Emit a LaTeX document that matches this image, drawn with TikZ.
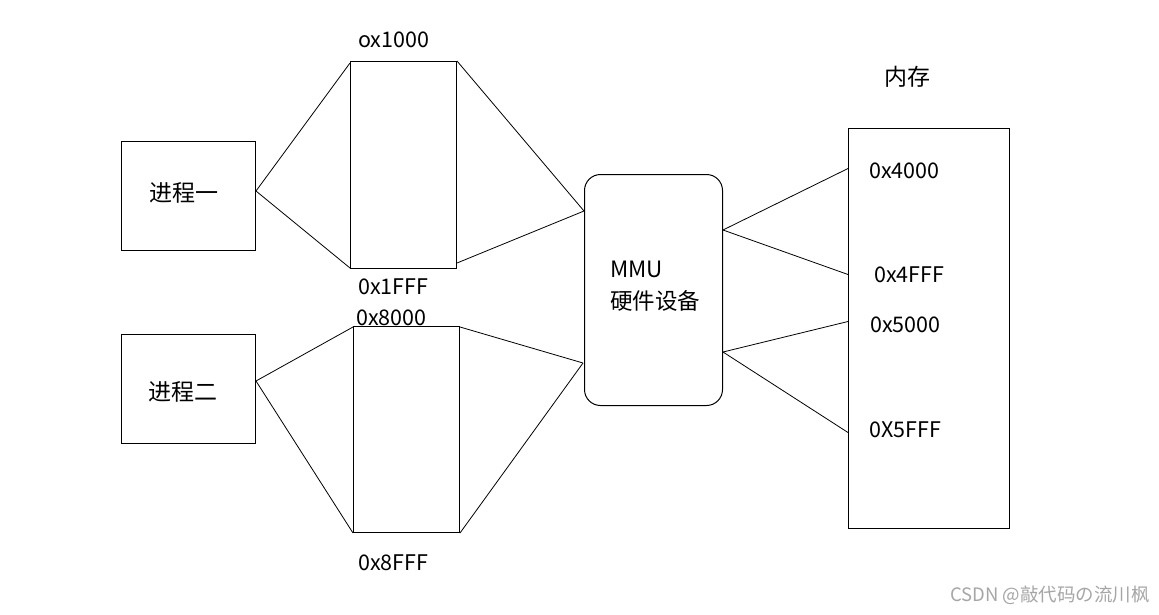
\documentclass[tikz,border=0pt]{standalone}
\usepackage{fontspec}
\setmainfont{Noto Sans CJK SC}
\usetikzlibrary{calc}
\begin{document}
\begin{tikzpicture}[x=1pt,y=-1pt,
  box/.style={draw,line width=1pt,rectangle,inner sep=0pt,anchor=north west},
  lbl/.style={anchor=west,inner sep=0pt,font=\fontsize{21.5}{24}\selectfont},
  cjk/.style={inner sep=0pt,font=\fontsize{23}{26}\selectfont},
  link/.style={line width=0.8pt}]
\fill[white] (0,0) rectangle (1159,614);
\useasboundingbox (0,0) rectangle (1159,614);
% process boxes
\node[box,minimum width=134pt,minimum height=109pt] (p1) at (121,141) {};
\node[cjk] (t1) at (184,193) {进程一};
\node[box,minimum width=134pt,minimum height=109pt] (p2) at (121,334) {};
\node[cjk] (t2) at (183,392) {进程二};
% virtual pages
\node[box,minimum width=106pt,minimum height=207pt] (v1) at (350,61) {};
\node[box,minimum width=106pt,minimum height=206pt] (v2) at (353,326) {};
% MMU
\node[box,minimum width=138pt,minimum height=231pt,rounded corners=16pt] (mmu) at (584,174) {};
\node[anchor=west,inner sep=0pt,align=left,font=\fontsize{22.5}{32}\selectfont] (mt) at (610,286) {MMU\\硬件设备};
% memory
\node[box,minimum width=161pt,minimum height=400pt] (mem) at (848,128) {};
\node[cjk] (memt) at (907,77) {内存};
% address labels
\node[lbl] (a1) at (358,40) {ox1000};
\node[lbl] (a2) at (358,287) {0x1FFF};
\node[lbl] (a3) at (356,318) {0x8000};
\node[lbl] (a4) at (358,563) {0x8FFF};
\node[lbl] (b1) at (869,171) {0x4000};
\node[lbl] (b2) at (874,275) {0x4FFF};
\node[lbl] (b3) at (870,325) {0x5000};
\node[lbl] (b4) at (869,430) {0X5FFF};
% connectors
\draw[link] ($(p1.east)+(0,-5)$) -- ($(v1.north west)+(0,2)$);
\draw[link] ($(p1.east)+(0,-5)$) -- ($(v1.south west)+(0,-1)$);
\draw[link] ($(v1.north east)+(0,0)$) -- ($(mmu.west)+(0,-79)$);
\draw[link] ($(v1.south east)+(0,-6)$) -- ($(mmu.west)+(0,-79)$);
\draw[link] ($(p2.east)+(0,-8)$) -- ($(v2.north west)+(0,1)$);
\draw[link] ($(p2.east)+(0,-8)$) -- ($(v2.south west)+(0,0)$);
\draw[link] ($(v2.north east)+(0,1)$) -- ($(mmu.west)+(-1,73)$);
\draw[link] ($(v2.south east)+(0,0)$) -- ($(mmu.west)+(-1,73)$);
\draw[link] ($(mmu.east)+(0,-60)$) -- ($(mem.west)+(0,-160)$);
\draw[link] ($(mmu.east)+(0,-60)$) -- ($(mem.west)+(0,-54)$);
\draw[link] ($(mmu.east)+(0,62)$) -- ($(mem.west)+(0,-7)$);
\draw[link] ($(mmu.east)+(0,62)$) -- ($(mem.west)+(0,104)$);
% watermark
\node[anchor=east,inner sep=0pt,text=black!35,font=\fontsize{18.5}{20}\selectfont] (wm) at (1150,595) {CSDN @敲代码の流川枫};
\end{tikzpicture}
\end{document}
